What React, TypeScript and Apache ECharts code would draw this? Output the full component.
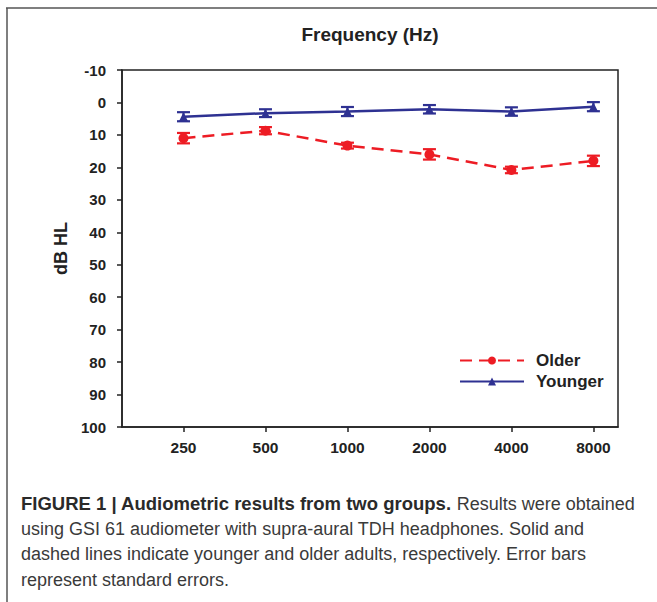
import React, { useEffect, useRef } from "react";
import * as echarts from "echarts";

const categories = ["250", "500", "1000", "2000", "4000", "8000"];
const olderMean = [11.0, 8.7, 13.3, 16.0, 20.8, 18.0];
const olderSE = [1.6, 1.1, 0.9, 1.6, 1.0, 1.6];
const youngerMean = [4.4, 3.3, 2.8, 2.1, 2.8, 1.3];
const youngerSE = [1.4, 1.2, 1.4, 1.3, 1.3, 1.4];
const yTicks = [-10, 0, 10, 20, 30, 40, 50, 60, 70, 80, 90, 100];

const RED = "#ED1C24";
const BLUE = "#2E3192";
const FONT = "Liberation Sans, Arial, sans-serif";

function errorSeries(name: string, mean: number[], se: number[], color: string) {
  return {
    name: name + " SE",
    type: "custom",
    z: 3,
    data: mean.map((m, i) => [i, m - se[i], m + se[i]]),
    renderItem: (params: any, api: any) => {
      const x = api.value(0);
      const lo = api.coord([x, api.value(1)]);
      const hi = api.coord([x, api.value(2)]);
      const w = 6.5;
      const style = { stroke: color, lineWidth: 2.2 };
      return {
        type: "group",
        children: [
          { type: "line", shape: { x1: lo[0], y1: lo[1], x2: hi[0], y2: hi[1] }, style },
          { type: "line", shape: { x1: lo[0] - w, y1: lo[1], x2: lo[0] + w, y2: lo[1] }, style },
          { type: "line", shape: { x1: hi[0] - w, y1: hi[1], x2: hi[0] + w, y2: hi[1] }, style },
        ],
      };
    },
  };
}

export default function App() {
  const ref = useRef<HTMLDivElement>(null);
  useEffect(() => {
    if (!ref.current) return;
    const chart = echarts.init(ref.current, null, { renderer: "svg" });
    const idx = categories.map((_, i) => i);
    chart.setOption({
      animation: false,
      backgroundColor: "#fff",
      textStyle: { fontFamily: FONT },
      grid: {
        left: 122,
        top: 70,
        right: 39,
        bottom: 175,
        show: true,
        borderColor: "#222",
        borderWidth: 1.5,
        backgroundColor: "transparent",
      },
      legend: {
        data: ["Older", "Younger"],
        orient: "vertical",
        left: 454,
        top: 347,
        itemWidth: 64,
        itemHeight: 10,
        itemGap: 4,
        textStyle: {
          fontSize: 17,
          fontWeight: "bold",
          color: "#222",
          padding: [0, 0, 0, 7],
          fontFamily: FONT,
        },
      },
      xAxis: {
        type: "value",
        min: -0.75,
        max: 5.3,
        splitLine: { show: false },
        axisLine: { show: true, onZero: false, lineStyle: { color: "#222", width: 1.5 } },
        axisTick: {
          show: true,
          customValues: idx,
          length: 5,
          lineStyle: { color: "#222", width: 1.5 },
        },
        axisLabel: {
          customValues: idx,
          margin: 12,
          fontSize: 15.5,
          fontWeight: "bold",
          color: "#222",
          formatter: (v: number) => categories[Math.round(v)] ?? "",
        },
      },
      yAxis: {
        type: "value",
        inverse: true,
        min: -10,
        max: 100,
        interval: 10,
        name: "dB HL",
        nameLocation: "middle",
        nameGap: 52,
        nameRotate: 90,
        nameTextStyle: { fontSize: 18, fontWeight: "bold", color: "#222" },
        splitLine: { show: false },
        axisLine: { show: true, onZero: false, lineStyle: { color: "#222", width: 1.5 } },
        axisTick: { show: true, length: 5, lineStyle: { color: "#222", width: 1.5 } },
        axisLabel: {
          margin: 16,
          fontSize: 15,
          fontWeight: "bold",
          color: "#222",
          formatter: (v: number) => (yTicks.includes(v) ? String(v) : ""),
        },
      },
      graphic: [
        {
          type: "line",
          shape: { x1: 6, y1: 8, x2: 657, y2: 8 },
          style: { stroke: "#555", lineWidth: 1.5 },
        },
        {
          type: "line",
          shape: { x1: 7, y1: 8, x2: 7, y2: 602 },
          style: { stroke: "#555", lineWidth: 1.5 },
        },
        {
          type: "text",
          x: 370,
          y: 34,
          style: {
            text: "Frequency (Hz)",
            fontSize: 19,
            fontWeight: "bold",
            fill: "#222",
            align: "center",
            verticalAlign: "middle",
            fontFamily: FONT,
          },
        },
        {
          type: "text",
          x: 21,
          y: 491,
          style: {
            text:
              "{b|FIGURE 1 | Audiometric results from two groups.} Results were obtained\nusing GSI 61 audiometer with supra-aural TDH headphones. Solid and\ndashed lines indicate younger and older adults, respectively. Error bars\nrepresent standard errors.",
            fontSize: 18,
            lineHeight: 25.3,
            fill: "#3a3a3a",
            fontFamily: FONT,
            rich: {
              b: {
                fontSize: 18.5,
                fontWeight: "bold",
                fill: "#2a2a2a",
                lineHeight: 25.3,
                fontFamily: FONT,
              },
            },
          },
        },
      ],
      series: [
        errorSeries("Older", olderMean, olderSE, RED),
        errorSeries("Younger", youngerMean, youngerSE, BLUE),
        {
          name: "Older",
          type: "line",
          z: 4,
          data: olderMean.map((v, i) => [i, v]),
          symbol: "circle",
          symbolSize: 10,
          itemStyle: { color: RED },
          lineStyle: { color: RED, width: 2.5, type: [12, 7] },
        },
        {
          name: "Younger",
          type: "line",
          z: 4,
          data: youngerMean.map((v, i) => [i, v]),
          symbol: "triangle",
          symbolSize: 9,
          itemStyle: { color: BLUE },
          lineStyle: { color: BLUE, width: 2.5 },
        },
      ],
    });
    return () => chart.dispose();
  }, []);
  return (
    <div
      ref={ref}
      style={{ position: "fixed", left: 0, top: 0, width: 657, height: 602 }}
    />
  );
}
